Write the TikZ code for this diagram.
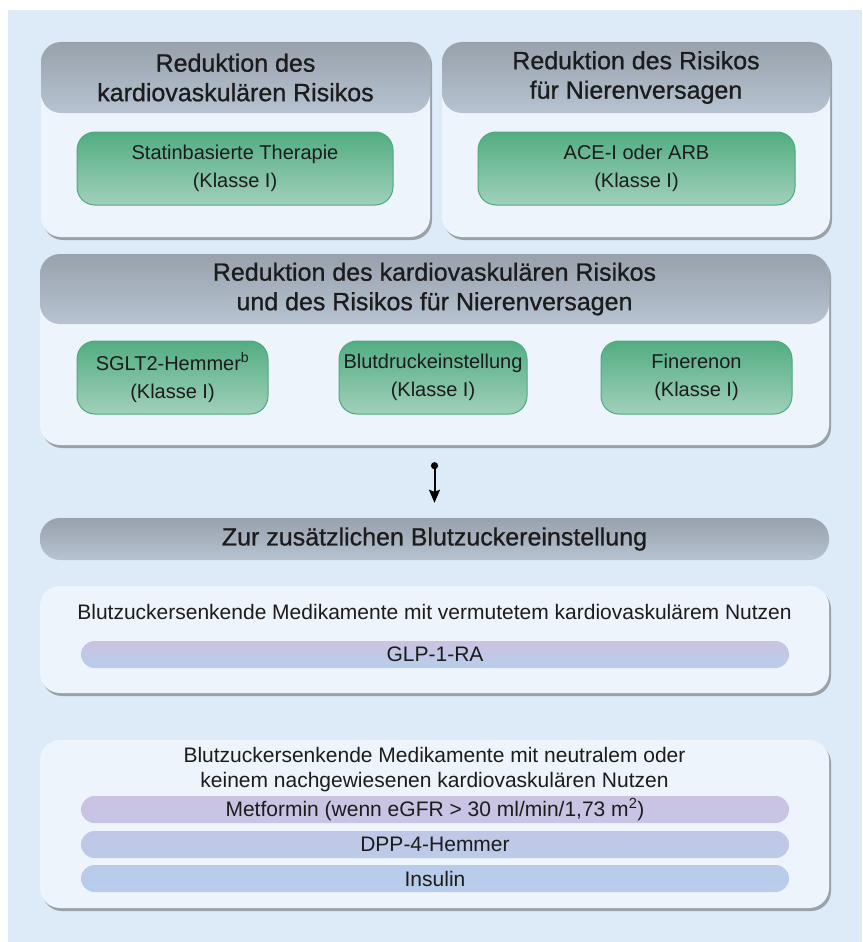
\documentclass[tikz,border=0pt]{standalone}
\usepackage{fontspec}
\setmainfont{Liberation Sans}
\newfontfamily\headfont[FakeBold=0.8]{Liberation Sans}
\usetikzlibrary{arrows.meta,shadows}

\definecolor{bgblue}{HTML}{DDEAF7}
\definecolor{panelfill}{HTML}{EEF4FB}
\definecolor{headtop}{HTML}{98A1AC}
\definecolor{headbot}{HTML}{B7C3D1}
\definecolor{greentop}{HTML}{52AD82}
\definecolor{greenbot}{HTML}{A1D0BA}
\definecolor{greenline}{HTML}{4EA97B}
\definecolor{lilac}{HTML}{CBC3E2}
\definecolor{periwinkle}{HTML}{C1C7E6}
\definecolor{paleblue}{HTML}{B7CDEB}
\definecolor{txt}{HTML}{1C1C1C}

\begin{document}
\begin{tikzpicture}[x=1pt,y=-1pt,text=txt,
  panel/.style={rounded corners=20pt,fill=panelfill,inner sep=0pt,
    drop shadow={shadow xshift=2pt,shadow yshift=-3pt,fill=black!65,opacity=.5}},
  head/.style={rounded corners=20pt,top color=headtop,bottom color=headbot,
    inner sep=0pt,align=center,font=\headfont\fontsize{25}{29.5}\selectfont},
  drug/.style={rounded corners=18pt,top color=greentop,bottom color=greenbot,
    draw=greenline,line width=1pt,minimum height=73pt,inner sep=0pt,
    align=center,font=\fontsize{20}{28}\selectfont},
  bar/.style={rounded corners=13.5pt,minimum width=708pt,minimum height=27pt,
    inner sep=0pt,font=\fontsize{21}{25}\selectfont},
  flow/.style={{Circle[length=7pt]}-{Stealth[length=13pt,width=11pt,inset=2pt]},line width=2pt}]

\useasboundingbox (0,0) rectangle (862,942);
\fill[white] (0,0) rectangle (862,942);
\fill[bgblue] (8,10) rectangle (862,942);

% obere Reihe
\node[panel,minimum width=389pt,minimum height=195pt] (p1) at (235.5,139.5) {};
\node[head,minimum width=389pt,minimum height=71pt] (h1) at (235.5,77.5)
  {Reduktion des\\kardiovaskulären Risikos};
\node[drug,minimum width=316pt] (statin) at (235,168.5)
  {Statinbasierte Therapie\\(Klasse I)};

\node[panel,minimum width=388pt,minimum height=195pt] (p2) at (636,139.5) {};
\node[head,minimum width=388pt,minimum height=71pt] (h2) at (636,77.5)
  {Reduktion des Risikos\\für Nierenversagen};
\node[drug,minimum width=317pt] (ace) at (636.5,168.5)
  {ACE-I oder ARB\\(Klasse I)};

% beides
\node[panel,minimum width=789pt,minimum height=191pt] (p3) at (434.5,349.5) {};
\node[head,minimum width=789pt,minimum height=70pt] (h3) at (434.5,289)
  {Reduktion des kardiovaskulären Risikos\\und des Risikos für Nierenversagen};
\node[drug,minimum width=191pt] (sglt) at (172.5,377.5)
  {SGLT2-Hemmer\textsuperscript{b}\\(Klasse I)};
\node[drug,minimum width=188pt] (rr) at (433,377.5)
  {Blutdruckeinstellung\\(Klasse I)};
\node[drug,minimum width=191pt] (fin) at (696.5,377.5)
  {Finerenon\\(Klasse I)};

\node[head,minimum width=789pt,minimum height=42pt] (zur) at (434.5,539)
  {Zur zusätzlichen Blutzuckereinstellung};
\draw[flow] ([yshift=-17pt]p3.south) -- ([yshift=15pt]zur.north);

% Blutzuckersenkung
\node[panel,minimum width=789pt,minimum height=107pt] (p4) at (434.5,639.5) {};
\node[font=\fontsize{21}{25}\selectfont] (t4) at (434.5,612)
  {Blutzuckersenkende Medikamente mit vermutetem kardiovaskulärem Nutzen};
\node[bar,top color=lilac,bottom color=paleblue] (glp) at (435,654.5) {GLP-1-RA};

\node[panel,minimum width=789pt,minimum height=168pt] (p5) at (434.5,824) {};
\node[align=center,font=\fontsize{21}{25}\selectfont] (t5) at (434.5,769.5)
  {Blutzuckersenkende Medikamente mit neutralem oder\\keinem nachgewiesenen kardiovaskulären Nutzen};
\node[bar,top color=lilac,bottom color=lilac!60!periwinkle] (met) at (435,809.5)
  {Metformin (wenn eGFR > 30 ml/min/1,73 m\textsuperscript{2})};
\node[bar,top color=periwinkle,bottom color=periwinkle!50!paleblue] (dpp) at (435,844.5)
  {DPP-4-Hemmer};
\node[bar,top color=paleblue!70!periwinkle,bottom color=paleblue] (ins) at (435,878.5)
  {Insulin};

\end{tikzpicture}
\end{document}
